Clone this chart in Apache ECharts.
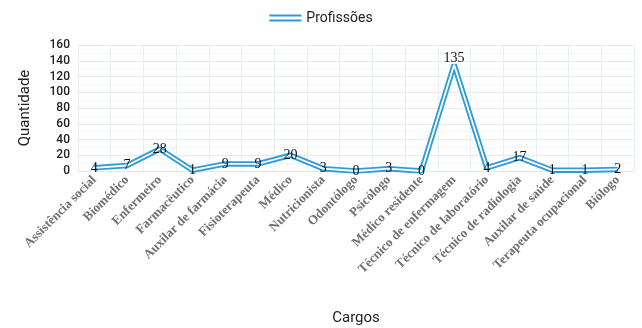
<!DOCTYPE html>
<html>
<head>
<meta charset="utf-8">
<script src="https://cdn.jsdelivr.net/npm/echarts@6/dist/echarts.min.js"></script>
<style>
  html, body { margin: 0; padding: 0; background: #fff; }
  #chart { width: 642px; height: 328px; }
</style>
</head>
<body>
<div id="chart"></div>
<script>
const cargos = [
  "Assistência social", "Biomédico", "Enfermeiro", "Farmacêutico",
  "Auxilar de farmácia", "Fisioterapeuta", "Médico", "Nutricionista",
  "Odontólogo", "Psicólogo", "Médico residente", "Técnico de enfermagem",
  "Técnico de laboratório", "Técnico de radiologia", "Auxilar de saúde",
  "Terapeuta ocupacional", "Biólogo"
];
const quantidade = [4, 7, 28, 1, 9, 9, 20, 3, 0, 3, 0, 135, 4, 17, 1, 1, 2];
const yTicks = { min: 0, max: 160, interval: 20 };

const blue = "#2f9bd8";
const peak = Math.max(...quantidade);

// labels sit on the points, the peak label slightly above
const labelData = quantidade.map((v) =>
  v === peak ? { value: v, label: { offset: [0, -6] } } : v
);

const chart = echarts.init(document.getElementById("chart"));
chart.setOption({
  animation: false,
  backgroundColor: "#fff",
  legend: {
    top: 6,
    left: "center",
    data: [{ name: "Profissões", icon: "path://M0,0H32V2H0ZM0,5H32V7H0Z" }],
    itemWidth: 32,
    itemHeight: 7,
    itemGap: 6,
    textStyle: { fontFamily: "Roboto", fontSize: 14, color: "#222" },
    itemStyle: { color: blue }
  },
  grid: { left: 78, right: 8, top: 45, bottom: 157 },
  xAxis: {
    type: "category",
    data: cargos,
    name: "Cargos",
    nameLocation: "middle",
    nameGap: 140,
    nameTextStyle: { fontFamily: "Roboto", fontSize: 15, color: "#222" },
    axisLine: { lineStyle: { color: "#e3e8ee" } },
    axisTick: { show: false },
    splitLine: { show: true, lineStyle: { color: "#e9eef4" } },
    axisLabel: {
      interval: 0,
      rotate: 45,
      margin: 7,
      fontFamily: "Liberation Serif",
      fontWeight: "bold",
      fontSize: 13,
      color: "#707070"
    }
  },
  yAxis: {
    type: "value",
    min: yTicks.min,
    max: yTicks.max,
    interval: yTicks.interval,
    name: "Quantidade",
    nameLocation: "middle",
    nameGap: 45,
    nameTextStyle: { fontFamily: "Roboto", fontSize: 15, color: "#222" },
    axisLine: { show: false },
    axisTick: { show: false },
    axisLabel: { fontFamily: "Roboto", fontSize: 12, fontWeight: 500, color: "#222", margin: 8 },
    splitLine: { lineStyle: { color: "#e6ebf2" } },
    minorTick: { show: false, splitNumber: 2 },
    minorSplitLine: { show: true, lineStyle: { color: "#f1f4f8" } }
  },
  series: [
    {
      name: "Profissões",
      type: "line",
      data: quantidade,
      symbol: "none",
      lineStyle: { color: blue, width: 5.5 },
      itemStyle: { color: blue },
      z: 2
    },
    {
      name: "inner",
      type: "line",
      data: labelData,
      symbol: "circle",
      symbolSize: 0,
      lineStyle: { color: "#fff", width: 1.8 },
      itemStyle: { color: "#fff" },
      label: {
        show: true,
        position: "inside",
        fontFamily: "Liberation Serif",
        fontSize: 14,
        color: "#111"
      },
      z: 3
    }
  ]
});
</script>
</body>
</html>
